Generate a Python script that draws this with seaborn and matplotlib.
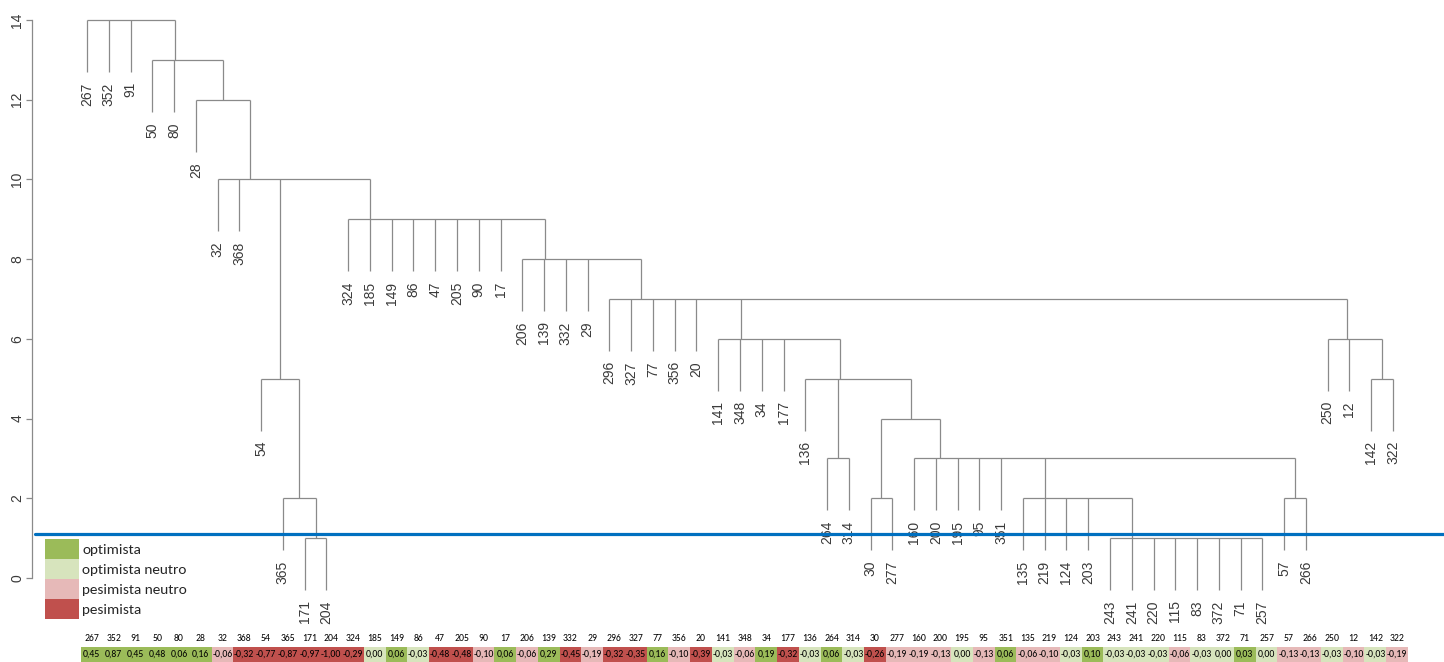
import matplotlib
matplotlib.use('Agg')
import numpy as np
import pandas as pd
import matplotlib.pyplot as plt
from matplotlib.colors import ListedColormap
from matplotlib.patches import Patch
from matplotlib import font_manager
import seaborn as sns

# leaf order of the dendrogram, left to right
leaves = ['267', '352', '91', '50', '80', '28', '32', '368', '54', '365', '171', '204',
          '324', '185', '149', '86', '47', '205', '90', '17', '206', '139', '332', '29',
          '296', '327', '77', '356', '20', '141', '348', '34', '177', '136', '264', '314',
          '30', '277', '160', '200', '195', '95', '351', '135', '219', '124', '203', '243',
          '241', '220', '115', '83', '372', '71', '257', '57', '266', '250', '12', '142', '322']

sentiment = [0.45, 0.87, 0.45, 0.48, 0.06, 0.16, -0.06, -0.32, -0.77, -0.87, -0.97, -1.00,
             -0.29, 0.00, 0.06, -0.03, -0.48, -0.48, -0.10, 0.06, -0.06, 0.29, -0.45, -0.19,
             -0.32, -0.35, 0.16, -0.10, -0.39, -0.03, -0.06, 0.19, -0.32, -0.03, 0.06, -0.03,
             -0.26, -0.19, -0.19, -0.13, 0.00, -0.13, 0.06, -0.06, -0.10, -0.03, 0.10, -0.03,
             -0.03, -0.03, -0.06, -0.03, 0.00, 0.03, 0.00, -0.13, -0.13, -0.03, -0.10, -0.03, -0.19]

# 0 optimista, 1 optimista neutro, 2 pesimista neutro, 3 pesimista
category = [0, 0, 0, 0, 0, 0, 2, 3, 3, 3, 3, 3,
            3, 1, 0, 1, 3, 3, 2, 0, 2, 0, 3, 2,
            3, 3, 0, 2, 3, 1, 2, 0, 3, 1, 0, 1,
            3, 2, 2, 2, 1, 2, 0, 2, 2, 1, 0, 1,
            1, 1, 2, 1, 1, 0, 1, 2, 2, 1, 2, 1, 2]

cat_names = ['optimista', 'optimista neutro', 'pesimista neutro', 'pesimista']
cat_colors = ['#9BBB59', '#D7E4BD', '#E6B9B8', '#C0504D']

# clusters: (merge height, members); members are leaves or other clusters
c_s = (1, ['243', '241', '220', '115', '83', '372', '71', '257'])
c_q = (2, ['135', '219', '124', '203', c_s])
c_r = (2, ['57', '266'])
c_p = (3, ['160', '200', '195', '95', '351', c_q, c_r])
c_o = (2, ['30', '277'])
c_n = (4, [c_o, c_p])
c_m = (3, ['264', '314'])
c_l = (5, ['136', c_m, c_n])
c_j = (6, ['141', '348', '34', '177', c_l])
c_t = (5, ['142', '322'])
c_k = (6, ['250', '12', c_t])
c_i = (7, ['296', '327', '77', '356', '20', c_j, c_k])
c_h = (8, ['206', '139', '332', '29', c_i])
c_e = (9, ['324', '185', '149', '86', '47', '205', '90', '17', c_h])
c_g = (1, ['171', '204'])
c_f = (2, ['365', c_g])
c_d = (5, ['54', c_f])
c_c = (10, ['32', '368', c_d, c_e])
c_b = (12, ['28', c_c])
c_a = (13, ['50', '80', c_b])
root = (14, ['267', '352', '91', c_a])

cut_height = 1.1
hang = 1.3  # R hclust hang = 0.1 * height range

available = {f.name for f in font_manager.fontManager.ttflist}


def pick(options):
    for name, size in options:
        if name in available:
            return name, size
    return 'DejaVu Sans', 5.5


small_font, small_size = pick([('Carlito', 7), ('Liberation Sans Narrow', 6.8),
                               ('Roboto Condensed', 6.8), ('Lato', 6.0)])
legend_font, legend_size = pick([('Carlito', 11), ('Lato', 10.5), ('Open Sans', 9.8)])
r_font = 'Liberation Sans'

sns.set_style('white')
plt.rcParams['font.family'] = [r_font, 'DejaVu Sans']

W, H = 1444, 662
fig = plt.figure(figsize=(W / 100, H / 100), dpi=100)
ax = fig.add_axes([0, 0, 1, 1])
ax.set_facecolor('none')

# leaf 0 at x=87px, leaf 60 at x=1393px; height 14 at y=20px, 0 at y=578px
xs_px = (1393 - 87) / 60
ax.set_xlim(-87 / xs_px, (W - 87) / xs_px)
ys_px = (578 - 20) / 14
ax.set_ylim(-(H - 578) / ys_px, 14 + 20 / ys_px)

pos = {lab: i for i, lab in enumerate(leaves)}
line_kw = dict(color='#8a8a8a', lw=0.9, solid_capstyle='butt')


def draw(node):
    h, members = node
    xs = []
    for m in members:
        if isinstance(m, tuple):
            x, hc = draw(m)
        else:
            x, hc = pos[m], h - hang
            ax.annotate(m, (x, hc), xytext=(0, -7.5), textcoords='offset points',
                        rotation=90, ha='center', va='top', fontsize=10, color='#3a3a3a')
        ax.plot([x, x], [h, hc], **line_kw)
        xs.append(x)
    ax.plot([min(xs), max(xs)], [h, h], **line_kw)
    # ties are merged pairwise from the right, so the node sits at the folded midpoint
    x_node = xs[-1]
    for x in reversed(xs[:-1]):
        x_node = (x + x_node) / 2
    return x_node, h


draw(root)

ax.axhline(cut_height, xmin=35 / W, xmax=1, color='#0070C0', lw=2.3, zorder=5)

# R style y axis
for side in ['top', 'right', 'bottom']:
    ax.spines[side].set_visible(False)
ax.spines['left'].set_position(('data', (32 - 87) / xs_px))
ax.spines['left'].set_bounds(0, 14)
ax.spines['left'].set_color('#8a8a8a')
ax.spines['left'].set_linewidth(0.9)
ax.set_xticks([])
ax.set_yticks(range(0, 15, 2))
ax.tick_params(axis='y', left=True, direction='out', length=4, width=0.9, color='#8a8a8a',
               labelsize=10, labelcolor='#3a3a3a', pad=1.5, labelrotation=90)
plt.setp(ax.get_yticklabels(), va='center')

# legend: rows are 20px tall, boxes 34px wide
handles = [Patch(facecolor=c, edgecolor='none', label=n) for c, n in zip(cat_colors, cat_names)]
fs_px = legend_size * 100 / 72
hh = (20 / fs_px - 0.245) / 0.65
fig.legend(handles=handles, loc='upper left', bbox_to_anchor=(45 / W, 1 - 539 / H),
           frameon=False, prop={'family': legend_font, 'size': legend_size},
           handlelength=34 / fs_px, handleheight=hh, labelspacing=0,
           borderpad=0, borderaxespad=0, handletextpad=0.2)

# sentiment table under the leaves
table = pd.DataFrame([category], columns=leaves)
annot = np.array([[f'{v:.2f}'.replace('.', ',') for v in sentiment]])
hm_ax = fig.add_axes([81 / W, 0, (1408 - 81) / W, 15 / H])
sns.heatmap(table, ax=hm_ax, cmap=ListedColormap(cat_colors), vmin=-0.5, vmax=3.5,
            cbar=False, annot=annot, fmt='', linewidths=0,
            annot_kws={'fontsize': small_size, 'color': 'black', 'family': small_font},
            xticklabels=leaves, yticklabels=False)
hm_ax.xaxis.tick_top()
hm_ax.set_xticklabels(leaves, rotation=0, fontsize=small_size, family=small_font, color='black')
hm_ax.tick_params(axis='x', length=0, pad=3)
hm_ax.set_xlabel('')
hm_ax.set_ylabel('')

fig.savefig('out.png', dpi=100)
